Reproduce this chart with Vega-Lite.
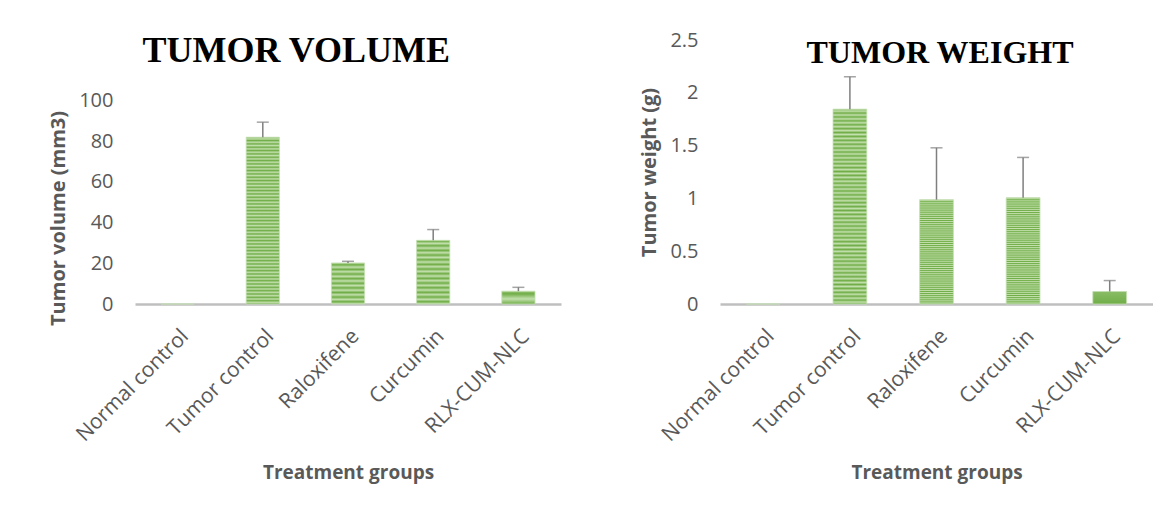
{
  "$schema": "https://vega.github.io/schema/vega-lite/v6.json",
  "background": "white",
  "padding": {"left": 48, "top": 30, "right": 0, "bottom": 6},
  "spacing": 78,
  "datasets": {
    "volume": [
      {"group": "Normal control", "value": 0, "upper": null},
      {"group": "Tumor control", "value": 82.0, "upper": 89.4},
      {"group": "Raloxifene", "value": 20.2, "upper": 21.0},
      {"group": "Curcumin", "value": 31.3, "upper": 36.6},
      {"group": "RLX-CUM-NLC", "value": 6.3, "upper": 8.2}
    ],
    "weight": [
      {"group": "Normal control", "value": 0, "upper": null},
      {"group": "Tumor control", "value": 1.845, "upper": 2.153},
      {"group": "Raloxifene", "value": 0.988, "upper": 1.479},
      {"group": "Curcumin", "value": 1.007, "upper": 1.388},
      {"group": "RLX-CUM-NLC", "value": 0.118, "upper": 0.222}
    ],
    "titles": [
      {"panel": "volume", "label": "TUMOR VOLUME"},
      {"panel": "weight", "label": "TUMOR WEIGHT"}
    ]
  },
  "hconcat": [
    {
      "width": 426,
      "height": 264,
      "data": {"name": "volume"},
      "encoding": {
        "x": {"field": "group", "type": "nominal", "sort": null,
          "scale": {"paddingInner": 0.61, "paddingOuter": 0.305},
          "axis": {"title": "Treatment groups", "labelAngle": -45, "labelPadding": 21, "titlePadding": 19, "domainColor": "#BFBFBF", "domainWidth": 2.5}}
      },
      "layer": [
        {"mark": {"type": "bar"},
         "encoding": {"y": {"field": "value", "type": "quantitative", "scale": {"domain": [0, 129.8], "nice": false},
           "axis": {"title": "Tumor volume (mm3)", "values": [0, 20, 40, 60, 80, 100], "domain": false, "labelPadding": 22, "titlePadding": 10, "titleY": 178}}}},
        {"transform": [{"filter": "datum.upper > 0"}],
         "mark": {"type": "rule", "color": "#7F7F7F", "strokeWidth": 1.5},
         "encoding": {"y": {"field": "value", "type": "quantitative", "title": "Tumor volume (mm3)"}, "y2": {"field": "upper"}}},
        {"transform": [{"filter": "datum.upper > 0"}],
         "mark": {"type": "tick", "color": "#7F7F7F", "thickness": 1.5, "size": 12},
         "encoding": {"y": {"field": "upper", "type": "quantitative", "title": "Tumor volume (mm3)"}}},
        {"data": {"name": "titles"},
         "transform": [{"filter": "datum.panel === 'volume'"}],
         "mark": {"type": "text", "font": "Liberation Serif", "fontWeight": "bold", "fontSize": 36, "color": "#000000", "align": "center", "baseline": "alphabetic", "dx": 33.5},
         "encoding": {"x": {"datum": "Tumor control", "type": "nominal"}, "y": {"datum": 119, "type": "quantitative"}, "text": {"field": "label"}}}
      ]
    },
    {
      "width": 433,
      "height": 264,
      "data": {"name": "weight"},
      "encoding": {
        "x": {"field": "group", "type": "nominal", "sort": null,
          "scale": {"paddingInner": 0.61, "paddingOuter": 0.305},
          "axis": {"title": "Treatment groups", "labelAngle": -45, "labelPadding": 21, "titlePadding": 19, "domainColor": "#BFBFBF", "domainWidth": 2.5}}
      },
      "layer": [
        {"mark": {"type": "bar"},
         "encoding": {"y": {"field": "value", "type": "quantitative", "scale": {"domain": [0, 2.5], "nice": false},
           "axis": {"title": "Tumor weight (g)", "values": [0, 0.5, 1, 1.5, 2, 2.5], "format": "~g", "domain": false, "labelPadding": 22, "titlePadding": 10}}}},
        {"transform": [{"filter": "datum.upper > 0"}],
         "mark": {"type": "rule", "color": "#7F7F7F", "strokeWidth": 1.5},
         "encoding": {"y": {"field": "value", "type": "quantitative", "title": "Tumor weight (g)"}, "y2": {"field": "upper"}}},
        {"transform": [{"filter": "datum.upper > 0"}],
         "mark": {"type": "tick", "color": "#7F7F7F", "thickness": 1.5, "size": 12},
         "encoding": {"y": {"field": "upper", "type": "quantitative", "title": "Tumor weight (g)"}}},
        {"data": {"name": "titles"},
         "transform": [{"filter": "datum.panel === 'weight'"}],
         "mark": {"type": "text", "font": "Liberation Serif", "fontWeight": "bold", "fontSize": 32, "color": "#000000", "align": "center", "baseline": "alphabetic", "dx": 3.5},
         "encoding": {"x": {"datum": "Raloxifene", "type": "nominal"}, "y": {"datum": 2.283, "type": "quantitative"}, "text": {"field": "label"}}}
      ]
    }
  ],
  "config": {
    "view": {"stroke": null},
    "bar": {"stroke": "#C5E0B4", "strokeWidth": 0.8, "fill": {"gradient": "linear", "x1": 0, "y1": 0, "x2": 0, "y2": 1, "stops": [
      {"offset": 0, "color": "#70AD47"}, {"offset": 0.01, "color": "#C3E0AD"}, {"offset": 0.02, "color": "#70AD47"}, {"offset": 0.03, "color": "#C3E0AD"}, {"offset": 0.04, "color": "#70AD47"}, {"offset": 0.05, "color": "#C3E0AD"}, {"offset": 0.06, "color": "#70AD47"}, {"offset": 0.07, "color": "#C3E0AD"}, {"offset": 0.08, "color": "#70AD47"}, {"offset": 0.09, "color": "#C3E0AD"},
      {"offset": 0.1, "color": "#70AD47"}, {"offset": 0.11, "color": "#C3E0AD"}, {"offset": 0.12, "color": "#70AD47"}, {"offset": 0.13, "color": "#C3E0AD"}, {"offset": 0.14, "color": "#70AD47"}, {"offset": 0.15, "color": "#C3E0AD"}, {"offset": 0.16, "color": "#70AD47"}, {"offset": 0.17, "color": "#C3E0AD"}, {"offset": 0.18, "color": "#70AD47"}, {"offset": 0.19, "color": "#C3E0AD"},
      {"offset": 0.2, "color": "#70AD47"}, {"offset": 0.21, "color": "#C3E0AD"}, {"offset": 0.22, "color": "#70AD47"}, {"offset": 0.23, "color": "#C3E0AD"}, {"offset": 0.24, "color": "#70AD47"}, {"offset": 0.25, "color": "#C3E0AD"}, {"offset": 0.26, "color": "#70AD47"}, {"offset": 0.27, "color": "#C3E0AD"}, {"offset": 0.28, "color": "#70AD47"}, {"offset": 0.29, "color": "#C3E0AD"},
      {"offset": 0.3, "color": "#70AD47"}, {"offset": 0.31, "color": "#C3E0AD"}, {"offset": 0.32, "color": "#70AD47"}, {"offset": 0.33, "color": "#C3E0AD"}, {"offset": 0.34, "color": "#70AD47"}, {"offset": 0.35, "color": "#C3E0AD"}, {"offset": 0.36, "color": "#70AD47"}, {"offset": 0.37, "color": "#C3E0AD"}, {"offset": 0.38, "color": "#70AD47"}, {"offset": 0.39, "color": "#C3E0AD"},
      {"offset": 0.4, "color": "#70AD47"}, {"offset": 0.41, "color": "#C3E0AD"}, {"offset": 0.42, "color": "#70AD47"}, {"offset": 0.43, "color": "#C3E0AD"}, {"offset": 0.44, "color": "#70AD47"}, {"offset": 0.45, "color": "#C3E0AD"}, {"offset": 0.46, "color": "#70AD47"}, {"offset": 0.47, "color": "#C3E0AD"}, {"offset": 0.48, "color": "#70AD47"}, {"offset": 0.49, "color": "#C3E0AD"},
      {"offset": 0.5, "color": "#70AD47"}, {"offset": 0.51, "color": "#C3E0AD"}, {"offset": 0.52, "color": "#70AD47"}, {"offset": 0.53, "color": "#C3E0AD"}, {"offset": 0.54, "color": "#70AD47"}, {"offset": 0.55, "color": "#C3E0AD"}, {"offset": 0.56, "color": "#70AD47"}, {"offset": 0.57, "color": "#C3E0AD"}, {"offset": 0.58, "color": "#70AD47"}, {"offset": 0.59, "color": "#C3E0AD"},
      {"offset": 0.6, "color": "#70AD47"}, {"offset": 0.61, "color": "#C3E0AD"}, {"offset": 0.62, "color": "#70AD47"}, {"offset": 0.63, "color": "#C3E0AD"}, {"offset": 0.64, "color": "#70AD47"}, {"offset": 0.65, "color": "#C3E0AD"}, {"offset": 0.66, "color": "#70AD47"}, {"offset": 0.67, "color": "#C3E0AD"}, {"offset": 0.68, "color": "#70AD47"}, {"offset": 0.69, "color": "#C3E0AD"},
      {"offset": 0.7, "color": "#70AD47"}, {"offset": 0.71, "color": "#C3E0AD"}, {"offset": 0.72, "color": "#70AD47"}, {"offset": 0.73, "color": "#C3E0AD"}, {"offset": 0.74, "color": "#70AD47"}, {"offset": 0.75, "color": "#C3E0AD"}, {"offset": 0.76, "color": "#70AD47"}, {"offset": 0.77, "color": "#C3E0AD"}, {"offset": 0.78, "color": "#70AD47"}, {"offset": 0.79, "color": "#C3E0AD"},
      {"offset": 0.8, "color": "#70AD47"}, {"offset": 0.81, "color": "#C3E0AD"}, {"offset": 0.82, "color": "#70AD47"}, {"offset": 0.83, "color": "#C3E0AD"}, {"offset": 0.84, "color": "#70AD47"}, {"offset": 0.85, "color": "#C3E0AD"}, {"offset": 0.86, "color": "#70AD47"}, {"offset": 0.87, "color": "#C3E0AD"}, {"offset": 0.88, "color": "#70AD47"}, {"offset": 0.89, "color": "#C3E0AD"},
      {"offset": 0.9, "color": "#70AD47"}, {"offset": 0.91, "color": "#C3E0AD"}, {"offset": 0.92, "color": "#70AD47"}, {"offset": 0.93, "color": "#C3E0AD"}, {"offset": 0.94, "color": "#70AD47"}, {"offset": 0.95, "color": "#C3E0AD"}, {"offset": 0.96, "color": "#70AD47"}, {"offset": 0.97, "color": "#C3E0AD"}, {"offset": 0.98, "color": "#70AD47"}, {"offset": 0.99, "color": "#C3E0AD"},
      {"offset": 1, "color": "#70AD47"}
    ]}},
    "axis": {"labelFont": "Open Sans", "labelFontSize": 20, "labelColor": "#595959", "titleFont": "Open Sans", "titleFontSize": 19, "titleFontWeight": "bold", "titleColor": "#595959", "grid": false, "ticks": false},
    "axisX": {"labelFontSize": 21},
    "axisY": {"titleFontSize": 20}
  }
}
